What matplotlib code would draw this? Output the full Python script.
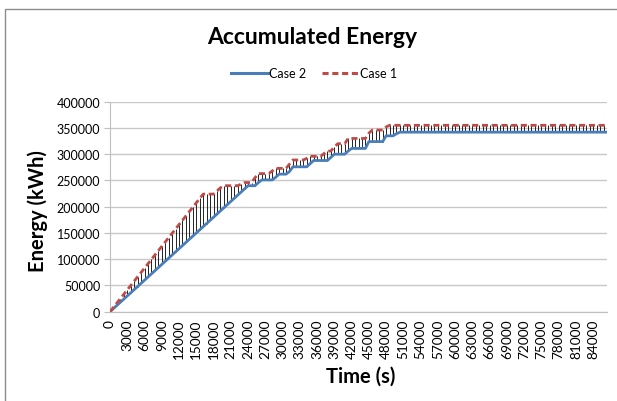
import matplotlib
matplotlib.use("Agg")
import matplotlib.pyplot as plt
from matplotlib.lines import Line2D
from matplotlib.patches import Rectangle

plt.rcParams['font.family'] = ['Lato', 'DejaVu Sans']

# Time categories (s), every 600 s over one day
time_s = list(range(0, 86401, 600))
tick_labels = [str(t) for t in time_s[::5]]

# Case 2 (solid blue) accumulated energy, kWh
case2 = ([0, 6000, 12000, 18000, 24000, 30000, 36000, 42000, 48000, 54000,
          60000, 66000, 72000, 78000, 84000, 90000, 96000, 102000, 108000, 114000,
          120000, 126000, 132000, 138000, 144000, 150000, 156000, 162000, 168000, 174000,
          180000, 186000, 192000, 198000, 204000, 210000, 216000, 222000, 228000, 234000,
          240000, 240000, 240000, 246000]
         + [251000] * 4 + [256000] + [262000] * 3 + [267000] + [276000] * 5
         + [282000] + [288000] * 5 + [294000] + [300000] * 4 + [306000]
         + [311000] * 5 + [324000] * 5 + [335000] * 3 + [339000] + [342000] * 61)

# Case 1 (dashed red) accumulated energy, kWh
case1 = ([0, 8300, 16600, 24900, 33200, 41500, 49800, 58100, 66400, 74700,
          83000, 91300, 99600, 107900, 116200, 124500, 132800, 141100, 149400, 157700,
          166000, 174300, 182600, 190900, 199200, 207500, 215800, 224000]
         + [224000] * 3 + [230000, 236000] + [240000] * 5 + [243000] + [246000] * 3
         + [255000] + [263000] * 4 + [268000] + [273000] * 4 + [281000] + [289000] * 4
         + [292000] + [296000] * 4 + [301000] + [306000] * 2 + [314000] + [320000] * 3
         + [330000] * 6 + [340000] + [346000] * 4 + [352000] + [355000] * 64)

W, H = 617, 402
fig = plt.figure(figsize=(W / 100, H / 100), dpi=100)
fig.patch.set_facecolor('white')

# chart-area border
fig.add_artist(Rectangle((5 / W, -0.05), 1.2, (H - 10) / H + 0.05, transform=fig.transFigure,
                         fill=False, edgecolor='#8c8c8c', lw=1.0))

ax = fig.add_axes([110 / W, 1 - 312.7 / H, (607 - 110) / W, (312.7 - 102.7) / H])
x = list(range(len(time_s)))

ax.vlines(x, case2, case1, color='black', lw=0.6, zorder=2)
blue = '#4a7ebb'
red = '#be4b48'
ax.plot(x, case2, color=blue, lw=2.0, zorder=3, solid_capstyle='butt')
ax.plot(x, case1, color=red, lw=2.0, zorder=4, linestyle=(0, (2.2, 1.3)), dash_capstyle='butt')

ax.set_xlim(0, len(time_s) - 1)
ax.set_ylim(0, 400000)
ax.set_yticks(range(0, 400001, 50000))
ax.set_yticklabels([str(v) for v in range(0, 400001, 50000)], fontsize=9)
ax.set_xticks(x[::5])
ax.set_xticklabels(tick_labels, rotation=90, fontsize=9.8)
ax.tick_params(axis='x', length=0, pad=5)
ax.tick_params(axis='y', length=4, color='#bfbfbf', pad=3)
ax.grid(axis='y', color='#c8c8c8', lw=1.0)
ax.set_axisbelow(True)
for s in ['top', 'right']:
    ax.spines[s].set_visible(False)
ax.spines['left'].set_color('#bfbfbf')
ax.spines['bottom'].set_color('#bfbfbf')

fig.text(312 / W, 1 - 38 / H, 'Accumulated Energy', ha='center', va='center',
         fontsize=16.5, fontweight='bold')
fig.text(38 / W, 1 - 211 / H, 'Energy (kWh)', ha='center', va='center', rotation=90,
         fontsize=14.5, fontweight='bold')
fig.text(361 / W, 1 - 377 / H, 'Time (s)', ha='center', va='center',
         fontsize=14.5, fontweight='bold')

handles = [Line2D([], [], color=blue, lw=2.2),
           Line2D([], [], color=red, lw=2.2, linestyle=(0, (2.0, 1.2)))]
fig.legend(handles, ['Case 2', 'Case 1'], loc='center', bbox_to_anchor=(314 / W, 1 - 74 / H),
           ncol=2, frameon=False, fontsize=9, handlelength=3.0, handletextpad=0.1,
           columnspacing=1.2)

fig.savefig('out.png', dpi=100)
